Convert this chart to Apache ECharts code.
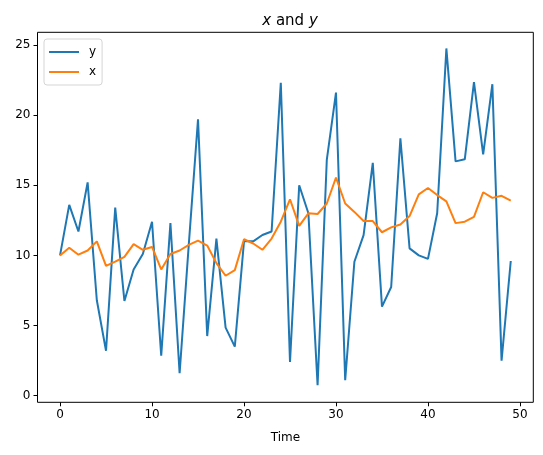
<!DOCTYPE html>
<html>
<head>
<meta charset="utf-8">
<script src="https://cdn.jsdelivr.net/npm/echarts@6/dist/echarts.min.js"></script>
<style>
  html, body { margin: 0; padding: 0; background: #fff; }
  #main { width: 543px; height: 455px; }
</style>
</head>
<body>
<div id="main"></div>
<script>
// values, index 0..49
var yValues = [10.0, 13.6, 11.7, 15.2, 6.8, 3.2, 13.4, 6.75, 9.0, 10.1,
               12.4, 2.85, 12.3, 1.6, 10.8, 19.7, 4.25, 11.2, 4.85, 3.5,
               11.0, 11.0, 11.45, 11.7, 22.3, 2.4, 15.0, 13.0, 0.75, 16.8,
               21.6, 1.1, 9.55, 11.45, 16.6, 6.35, 7.75, 18.35, 10.5, 10.0,
               9.75, 13.0, 24.75, 16.7, 16.85, 22.35, 17.2, 22.2, 2.5, 9.6];
var xValues = [10.0, 10.55, 10.05, 10.35, 11.0, 9.25, 9.55, 9.9, 10.8, 10.4,
               10.6, 9.0, 10.1, 10.35, 10.75, 11.05, 10.7, 9.45, 8.55, 8.95,
               11.15, 10.85, 10.4, 11.2, 12.4, 14.0, 12.1, 13.0, 12.95, 13.7,
               15.55, 13.7, 13.1, 12.45, 12.45, 11.65, 12.0, 12.2, 12.8, 14.35,
               14.8, 14.3, 13.85, 12.3, 12.4, 12.75, 14.5, 14.1, 14.25, 13.9];
var xTicks = [0, 10, 20, 30, 40, 50];
var yTicks = [0, 5, 10, 15, 20, 25];

function pairs(arr) {
  return arr.map(function (v, i) { return [i, v]; });
}

var font = 'DejaVu Sans';
var chart = echarts.init(document.getElementById('main'), null, { renderer: 'canvas' });

chart.setOption({
  animation: false,
  backgroundColor: '#fff',
  textStyle: { fontFamily: font },
  title: {
    text: '{i|x} and {i|y}',
    left: 285,
    top: 9,
    textAlign: 'center',
    textStyle: {
      fontFamily: font, fontSize: 15, fontWeight: 'normal', color: '#000',
      rich: { i: { fontFamily: font, fontSize: 15, fontStyle: 'italic', color: '#000' } }
    }
  },
  legend: {
    orient: 'vertical',
    left: 44,
    top: 39,
    padding: [7, 6, 7, 5],
    itemGap: 8,
    itemWidth: 30,
    itemHeight: 2,
    icon: 'rect',
    backgroundColor: 'rgba(255,255,255,0.8)',
    borderColor: '#d5d5d5',
    borderWidth: 1,
    borderRadius: 3,
    textStyle: { fontFamily: font, fontSize: 12, color: '#000', padding: [0, 0, 0, 5] },
    data: ['y', 'x']
  },
  grid: {
    left: 37.5, right: 9.7, top: 32.3, bottom: 52.7,
    show: true, borderColor: '#000', borderWidth: 1, backgroundColor: 'transparent'
  },
  xAxis: {
    type: 'value',
    min: -2.45,
    max: 51.45,
    name: 'Time',
    nameLocation: 'middle',
    nameGap: 30,
    nameTextStyle: { fontFamily: font, fontSize: 12, color: '#000' },
    axisLine: { show: false, onZero: false },
    axisTick: { show: true, inside: false, length: 4, lineStyle: { color: '#000' }, customValues: xTicks },
    axisLabel: { fontFamily: font, fontSize: 12, color: '#000', margin: 7, customValues: xTicks },
    splitLine: { show: false }
  },
  yAxis: {
    type: 'value',
    min: -0.47,
    max: 25.9,
    axisLine: { show: false, onZero: false },
    axisTick: { show: true, inside: false, length: 4, lineStyle: { color: '#000' }, customValues: yTicks },
    axisLabel: { fontFamily: font, fontSize: 12, color: '#000', margin: 7, customValues: yTicks },
    splitLine: { show: false }
  },
  series: [
    {
      name: 'y',
      type: 'line',
      data: pairs(yValues),
      symbol: 'none',
      lineStyle: { color: '#1f77b4', width: 2 },
      itemStyle: { color: '#1f77b4' }
    },
    {
      name: 'x',
      type: 'line',
      data: pairs(xValues),
      symbol: 'none',
      lineStyle: { color: '#ff7f0e', width: 2 },
      itemStyle: { color: '#ff7f0e' }
    }
  ]
});
</script>
</body>
</html>
